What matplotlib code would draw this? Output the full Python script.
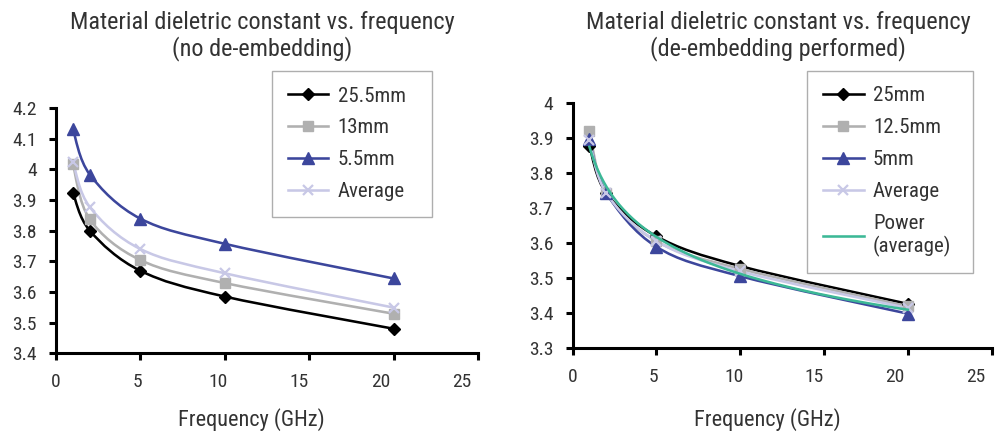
import numpy as np
import matplotlib
matplotlib.use('Agg')
import matplotlib.pyplot as plt
from matplotlib.path import Path
from matplotlib.patches import PathPatch
from matplotlib.lines import Line2D
from matplotlib.transforms import ScaledTranslation

plt.rcParams['font.family'] = ['Roboto Condensed', 'Archivo Narrow', 'PT Sans Narrow',
                               'Liberation Sans Narrow', 'DejaVu Sans']
plt.rcParams['text.color'] = '#333333'

# frequency points (GHz)
freq = [1, 2, 5, 10, 20]
xticks = [0, 5, 10, 15, 20, 25]

# no de-embedding
raw_255 = [3.924, 3.800, 3.669, 3.585, 3.480]
raw_13 = [4.017, 3.837, 3.704, 3.629, 3.529]
raw_55 = [4.131, 3.983, 3.839, 3.757, 3.644]
raw_avg = [4.025, 3.877, 3.740, 3.661, 3.549]

# de-embedding performed
de_25 = [3.878, 3.744, 3.620, 3.535, 3.427]
de_125 = [3.922, 3.744, 3.606, 3.527, 3.420]
de_5 = [3.897, 3.745, 3.590, 3.506, 3.399]
de_avg = [3.895, 3.744, 3.606, 3.520, 3.415]

black = '#000000'
grey = '#b0b0b0'
blue = '#3c469c'
lav = '#c8c8e6'
green = '#3cb896'
LW = 1.85


def smooth_path(x, y):
    # excel style smoothed line: cubic bezier through the points
    x = np.asarray(x, float)
    y = np.asarray(y, float)
    n = len(x)
    verts = [(x[0], y[0])]
    codes = [Path.MOVETO]
    for i in range(n - 1):
        i0 = max(i - 1, 0)
        i3 = min(i + 2, n - 1)
        c1 = (x[i] + (x[i + 1] - x[i0]) / 6, y[i] + (y[i + 1] - y[i0]) / 6)
        c2 = (x[i + 1] - (x[i3] - x[i]) / 6, y[i + 1] - (y[i3] - y[i]) / 6)
        verts += [c1, c2, (x[i + 1], y[i + 1])]
        codes += [Path.CURVE4] * 3
    return Path(verts, codes)


def draw_series(ax, x, y, color, marker, ms, mew=1.0):
    ax.add_patch(PathPatch(smooth_path(x, y), fill=False, edgecolor=color,
                           lw=LW, capstyle='round', joinstyle='round'))
    ax.plot(x, y, ls='none', marker=marker, ms=ms, color=color, mec=color, mew=mew)
    return Line2D([], [], color=color, lw=LW, marker=marker, ms=ms, mec=color, mew=mew)


def style_axes(ax, ylim, yticks, ylabels):
    ax.set_xlim(0, 25)
    ax.set_ylim(*ylim)
    ax.set_xticks(xticks)
    ax.set_yticks(yticks)
    ax.set_yticklabels(ylabels)
    for s in ['top', 'right']:
        ax.spines[s].set_visible(False)
    for s in ['left', 'bottom']:
        ax.spines[s].set_linewidth(2.2)
        ax.spines[s].set_color('black')
        ax.spines[s].set_capstyle('projecting')
    ax.tick_params(direction='out', length=5, width=2.2, labelsize=14,
                   labelcolor='#333333', pad=9)
    # the original's x labels drift a little left of their ticks
    for tick, v in zip(ax.xaxis.get_major_ticks(), xticks):
        lab = tick.label1
        lab.set_transform(lab.get_transform() +
                          ScaledTranslation(-0.65 * v / 100, 0, fig.dpi_scale_trans))


def make_legend(ax, handles, labels, box):
    leg = ax.legend(handles, labels, loc='upper left', bbox_to_anchor=box,
                    mode='expand', fontsize=15, frameon=True, fancybox=False,
                    handlelength=1.95, borderpad=0.75, labelspacing=0.62,
                    handletextpad=0.45, borderaxespad=0)
    leg.get_frame().set_edgecolor('#9a9a9a')
    leg.get_frame().set_linewidth(1.0)
    return leg


fig = plt.figure(figsize=(9.97, 4.36), dpi=100)

# left chart
ax1 = fig.add_axes([0.0562, 0.1897, 0.4233, 0.5626])
h1 = [
    draw_series(ax1, freq, raw_255, black, 'D', 6),
    draw_series(ax1, freq, raw_13, grey, 's', 6.5),
    draw_series(ax1, freq, raw_55, blue, '^', 8),
    draw_series(ax1, freq, raw_avg, lav, 'x', 7, 1.6),
]
style_axes(ax1, (3.4, 4.2), np.arange(3.4, 4.21, 0.1),
           ['3.4', '3.5', '3.6', '3.7', '3.8', '3.9', '4', '4.1', '4.2'])
make_legend(ax1, h1, ['25.5mm', '13mm', '5.5mm', 'Average'],
            (0.512, 0.568, 0.379, 0.583))

# right chart
ax2 = fig.add_axes([0.5744, 0.2011, 0.4203, 0.5619])
h2 = [
    draw_series(ax2, freq, de_25, black, 'D', 6),
    draw_series(ax2, freq, de_125, grey, 's', 6.5),
    draw_series(ax2, freq, de_5, blue, '^', 8),
    draw_series(ax2, freq, de_avg, lav, 'x', 7, 1.6),
]
# power trendline of the average
b, a = np.polyfit(np.log(freq), np.log(de_avg), 1)
xf = np.linspace(freq[0], freq[-1], 200)
ax2.plot(xf, np.exp(a) * xf ** b, color=green, lw=LW)
h2.append(Line2D([], [], color=green, lw=LW))
style_axes(ax2, (3.3, 4.0), np.arange(3.3, 4.01, 0.1),
           ['3.3', '3.4', '3.5', '3.6', '3.7', '3.8', '3.9', '4'])
make_legend(ax2, h2, ['25mm', '12.5mm', '5mm', 'Average', 'Power\n(average)'],
            (0.56, 0.331, 0.395, 0.802))

# titles and axis labels placed in figure pixels
W, H = 997, 436
fig.text(262 / W, 1 - 36 / H, 'Material dieletric constant vs. frequency\n(no de-embedding)',
         ha='center', va='center', fontsize=17.5, linespacing=1.12)
fig.text(778 / W, 1 - 36 / H, 'Material dieletric constant vs. frequency\n(de-embedding performed)',
         ha='center', va='center', fontsize=17.5, linespacing=1.12)
fig.text(251 / W, 1 - 420 / H, 'Frequency (GHz)', ha='center', va='center', fontsize=16)
fig.text(767 / W, 1 - 420 / H, 'Frequency (GHz)', ha='center', va='center', fontsize=16)

fig.savefig('out.png', dpi=100)
